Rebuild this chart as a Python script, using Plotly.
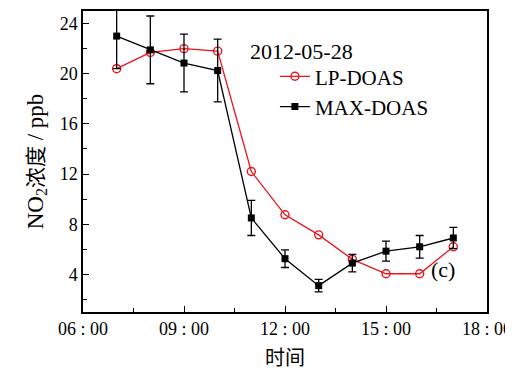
import plotly.graph_objects as go

hours = [7, 8, 9, 10, 11, 12, 13, 14, 15, 16, 17]
lp_doas = [20.4, 21.7, 22.0, 21.8, 12.2, 8.75, 7.15, 5.2, 4.05, 4.05, 6.2]
max_doas = [23.0, 21.9, 20.85, 20.25, 8.5, 5.25, 3.1, 4.9, 5.85, 6.2, 6.9]
max_err = [2.6, 2.7, 2.3, 2.5, 1.4, 0.7, 0.5, 0.7, 0.8, 0.9, 0.85]

x_tickvals = [6, 9, 12, 15, 18]
x_ticktext = ["06 : 00", "09 : 00", "12 : 00", "15 : 00", "18 : 00"]
y_tickvals = [4, 8, 12, 16, 20, 24]

serif = "Liberation Serif"
cjk = "Noto Sans CJK SC"

fig = go.Figure()
fig.add_trace(go.Scatter(
    x=hours, y=lp_doas, name="LP-DOAS", mode="lines+markers",
    line=dict(color="#e8141c", width=1.3),
    marker=dict(symbol="circle-open", size=8, color="#e8141c", line=dict(width=1.4)),
))
fig.add_trace(go.Scatter(
    x=hours, y=max_doas, name="MAX-DOAS", mode="lines+markers",
    line=dict(color="black", width=1.3),
    marker=dict(symbol="square", size=7, color="black"),
    error_y=dict(type="data", array=max_err, visible=True, color="black", thickness=1.3, width=4),
))

fig.add_annotation(x=0.54, y=0.914, xref="paper", yref="paper", text="2012-05-28",
                   showarrow=False, font=dict(family=serif, size=22, color="black"))
fig.add_annotation(x=0.925, y=0.093, xref="paper", yref="paper", text="(c)",
                   showarrow=False, font=dict(family=serif, size=22, color="black"))

fig.update_layout(
    width=505, height=363,
    margin=dict(l=75, r=26, t=3, b=59, autoexpand=False),
    plot_bgcolor="white", paper_bgcolor="white",
    showlegend=True,
    font=dict(family=serif, color="black"),
    legend=dict(x=0.475, y=0.85, xanchor="left", yanchor="top",
                font=dict(family=serif, size=21, color="black"),
                bgcolor="rgba(0,0,0,0)", tracegroupgap=0, itemwidth=30),
    xaxis=dict(range=[6, 18], tickvals=x_tickvals, ticktext=x_ticktext, automargin=False,
               ticks="inside", ticklen=6, tickwidth=1.2, tickcolor="black",
               showline=True, linecolor="black", linewidth=1.5, mirror=True,
               showgrid=False, zeroline=False,
               minor=dict(tickvals=[7.5, 10.5, 13.5, 16.5], ticks="inside", ticklen=4, tickcolor="black"),
               tickfont=dict(family=serif, size=18, color="black"),
               title=dict(text="时间", font=dict(family=cjk, size=20, color="black"), standoff=15)),
    yaxis=dict(range=[1, 25], tickvals=y_tickvals, automargin=False,
               ticks="inside", ticklen=6, tickwidth=1.2, tickcolor="black",
               showline=True, linecolor="black", linewidth=1.5, mirror=True,
               showgrid=False, zeroline=False,
               minor=dict(dtick=2, tick0=2, ticks="inside", ticklen=4, tickcolor="black"),
               tickfont=dict(family=serif, size=18, color="black"),
               title=dict(text="NO<sub>2</sub><span style='font-family:Noto Sans CJK SC;font-size:21px'>浓度</span> / ppb",
                          font=dict(family=serif, size=23, color="black"), standoff=10)),
)

fig.write_html("out.html")
